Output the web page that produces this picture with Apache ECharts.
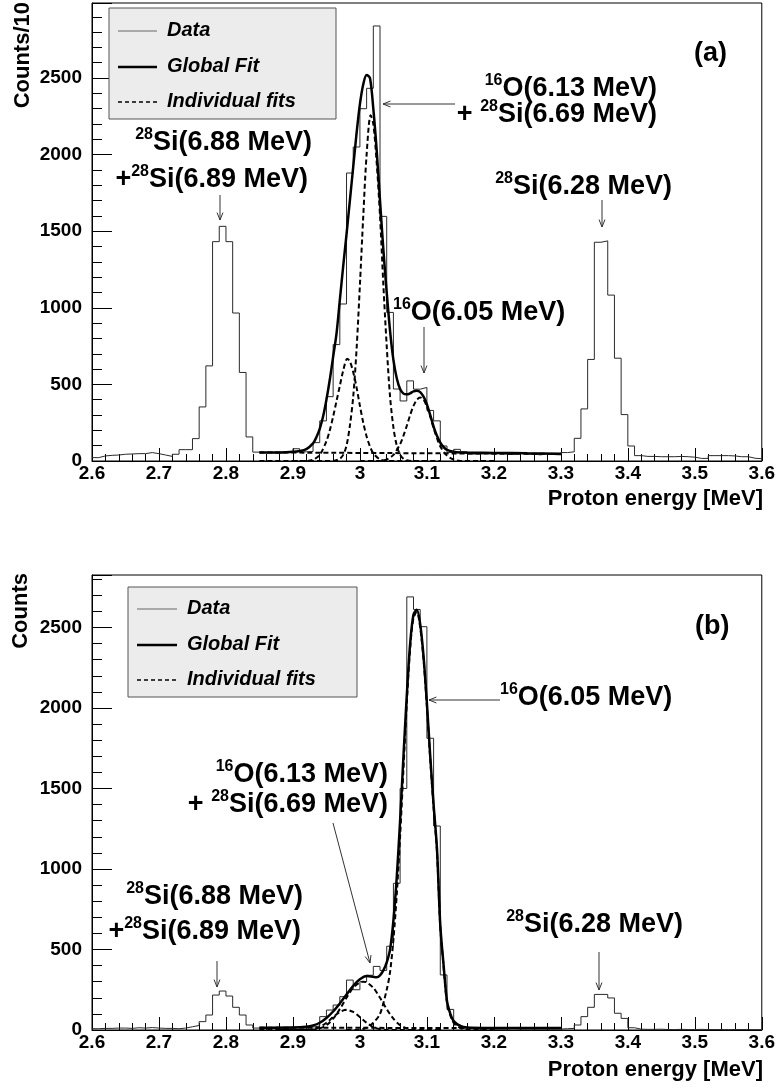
<!DOCTYPE html>
<html><head><meta charset="utf-8">
<script src="https://cdn.jsdelivr.net/npm/echarts@6/dist/echarts.min.js"></script>
<style>html,body{margin:0;padding:0;background:#fff}#c{width:778px;height:1087px}</style>
</head><body><div id="c"></div>
<script>
// ---------------- DATA ----------------
const binStart = 2.6, binWidth = 0.01;
const xTickLabels = ['2.6','2.7','2.8','2.9','3','3.1','3.2','3.3','3.4','3.5','3.6'];
const yTicksA = [0,500,1000,1500,2000,2500];
const yTicksB = [0,500,1000,1500,2000,2500];

// Panel (a): counts per 10 keV bin, 2.60 ... 3.59
const countsA = [
  22,33,37,39,44,46,48,48,55,48,
  39,30,44,74,74,146,353,621,1432,1532,
  1432,966,578,157,58,55,55,52,55,55,
  80,60,62,120,262,420,760,1025,1880,2050,
  2300,2433,2840,1597,970,470,392,523,469,480,
  330,262,98,55,76,60,45,45,48,45,
  50,44,42,50,45,44,40,48,42,40,
  55,60,148,340,663,1428,1437,1083,671,303,
  98,35,30,30,28,28,28,30,28,25,
  17,17,35,35,35,33,28,28,18,15
];
// Panel (b)
const countsB = [
  8,10,10,12,12,10,14,12,15,12,
  10,10,8,12,20,28,52,93,217,242,
  211,141,93,31,12,12,10,12,10,12,
  15,12,18,25,83,124,155,207,310,250,
  300,340,395,370,520,911,1500,2690,2612,2505,
  1812,1267,342,128,31,12,8,6,8,6,
  5,6,8,5,6,5,6,5,5,6,
  8,10,31,83,141,221,221,199,104,72,
  14,5,4,4,5,3,3,4,3,3,
  4,3,3,3,2,3,3,2,2,2
];

// Fit curves: [energy, counts]
const fitGlobalA = [[2.85,55],[2.88,56],[2.90,60],[2.91,65],[2.92,78],[2.93,115],[2.935,155],[2.94,210],[2.945,290],[2.95,400],[2.955,530],[2.96,680],[2.965,830],[2.97,1050],[2.975,1270],[2.98,1480],[2.985,1700],[2.99,1920],[2.995,2140],[3.0,2330],[3.005,2460],[3.01,2520],[3.015,2500],[3.02,2300],[3.025,2030],[3.03,1700],[3.035,1380],[3.04,1100],[3.045,850],[3.05,660],[3.055,540],[3.06,470],[3.065,440],[3.07,435],[3.075,442],[3.08,455],[3.085,458],[3.09,450],[3.095,420],[3.10,370],[3.105,300],[3.11,225],[3.115,165],[3.12,120],[3.125,90],[3.13,72],[3.14,60],[3.15,56],[3.2,53],[3.25,50],[3.3,48]];
const fitPeak1A = [[2.85,0],[2.92,0],[2.93,8],[2.94,40],[2.95,130],[2.955,200],[2.96,290],[2.965,390],[2.97,490],[2.975,590],[2.981,667],[2.985,650],[2.99,580],[2.995,480],[3.0,360],[3.005,250],[3.01,160],[3.015,95],[3.02,50],[3.03,10],[3.04,0],[3.1,0]];
const fitPeak2A = [[2.90,0],[2.96,0],[2.97,15],[2.975,40],[2.98,100],[2.985,230],[2.99,420],[2.995,730],[3.0,1150],[3.005,1600],[3.01,2000],[3.016,2258],[3.02,2200],[3.025,1950],[3.03,1600],[3.035,1150],[3.04,750],[3.045,420],[3.05,220],[3.055,100],[3.06,40],[3.065,15],[3.07,5],[3.08,0],[3.12,0]];
const fitPeak3A = [[3.0,0],[3.03,0],[3.04,10],[3.05,40],[3.06,110],[3.065,165],[3.07,230],[3.075,300],[3.08,360],[3.085,400],[3.09,415],[3.095,400],[3.10,355],[3.105,290],[3.11,215],[3.115,150],[3.12,95],[3.13,35],[3.14,10],[3.15,0],[3.2,0]];
const fitBackA = [[2.85,56],[3.30,46]];

const fitGlobalB = [[2.85,14],[2.90,15],[2.92,20],[2.93,28],[2.94,45],[2.95,75],[2.96,115],[2.97,165],[2.98,220],[2.99,275],[3.0,315],[3.01,335],[3.02,330],[3.025,328],[3.03,340],[3.035,370],[3.04,420],[3.045,500],[3.05,680],[3.055,950],[3.06,1300],[3.065,1700],[3.07,2080],[3.075,2400],[3.08,2580],[3.085,2610],[3.09,2520],[3.095,2320],[3.10,2030],[3.105,1700],[3.11,1400],[3.115,1130],[3.12,650],[3.125,400],[3.13,180],[3.135,100],[3.14,55],[3.15,25],[3.16,16],[3.2,13],[3.3,12]];
const fitPeak1B = [[2.85,0],[2.92,0],[2.93,5],[2.94,18],[2.95,45],[2.96,80],[2.97,112],[2.98,125],[2.99,112],[3.0,80],[3.01,45],[3.02,18],[3.03,5],[3.04,0],[3.08,0]];
const fitPeak2B = [[2.88,0],[2.93,3],[2.94,10],[2.95,30],[2.96,70],[2.97,130],[2.98,200],[2.99,262],[3.0,296],[3.005,300],[3.01,296],[3.02,262],[3.03,200],[3.04,130],[3.05,70],[3.06,30],[3.07,10],[3.08,0],[3.12,0]];
const fitPeak3B = [[2.98,0],[3.0,2],[3.01,15],[3.02,45],[3.03,100],[3.04,250],[3.045,360],[3.05,560],[3.055,840],[3.06,1200],[3.065,1620],[3.07,2030],[3.075,2370],[3.08,2560],[3.085,2595],[3.09,2500],[3.095,2300],[3.10,2010],[3.105,1680],[3.11,1380],[3.115,1110],[3.12,640],[3.125,390],[3.13,170],[3.135,90],[3.14,45],[3.15,12],[3.16,3],[3.2,0]];
const fitBackB = [[2.85,14],[3.30,12]];

// ---------------- CHART ----------------
const FONT = '"Liberation Sans", Arial, Helvetica, sans-serif';
const chart = echarts.init(document.getElementById('c'), null, {renderer:'canvas', width:778, height:1087});

function histData(counts){
  const d = counts.map((c,i)=>[+(binStart+i*binWidth).toFixed(2), c]);
  d.push([+(binStart+counts.length*binWidth).toFixed(2), counts[counts.length-1]]);
  return d;
}
function xAxisCfg(idx){
  return {gridIndex: idx, type:'value', min:2.6, max:3.6, interval:0.1,
    axisLine:{show:true, onZero:false, lineStyle:{color:'#000', width:1}},
    axisTick:{show:true, inside:true, length:13, lineStyle:{color:'#000', width:1}},
    minorTick:{show:true, splitNumber:5, length:7, lineStyle:{color:'#000', width:1}},
    splitLine:{show:false},
    axisLabel:{margin:3, color:'#000', fontFamily:FONT, fontWeight:'bold', fontSize:19,
      formatter: v => { const r = Math.round(v*10)/10; const s = (r%1===0)? String(r) : r.toFixed(1); return xTickLabels.indexOf(s)>=0 ? s : ''; }}
  };
}
function yAxisCfg(idx, max, ticks){
  return {gridIndex: idx, type:'value', min:0, max:max, interval:500,
    axisLine:{show:true, lineStyle:{color:'#000', width:1}},
    axisTick:{show:true, inside:true, length:20, lineStyle:{color:'#000', width:1}},
    minorTick:{show:true, splitNumber:5, length:10, lineStyle:{color:'#000', width:1}},
    splitLine:{show:false},
    axisLabel:{margin:10, color:'#000', fontFamily:FONT, fontWeight:'bold', fontSize:19, showMaxLabel:false,
      formatter: v => ticks.indexOf(Math.round(v))>=0 ? String(Math.round(v)) : ''}
  };
}
function lineSeries(data, ax, opts){
  return Object.assign({type:'line', xAxisIndex:ax, yAxisIndex:ax, data:data, showSymbol:false, symbol:'none',
    animation:false, clip:true, silent:true}, opts);
}
const dashed = {color:'#000', width:2, type:[5,3]};
const series = [];
[[countsA, fitGlobalA, [fitPeak1A, fitPeak2A, fitPeak3A, fitBackA]],
 [countsB, fitGlobalB, [fitPeak1B, fitPeak2B, fitPeak3B, fitBackB]]].forEach((p, ax) => {
  series.push(lineSeries(histData(p[0]), ax, {step:'end', lineStyle:{color:'#2a2a2a', width:1}, z:2}));
  p[2].forEach(f => series.push(lineSeries(f, ax, {smooth:0.3, lineStyle:dashed, z:3})));
  series.push(lineSeries(p[1], ax, {smooth:0.3, lineStyle:{color:'#000', width:2.5}, z:4}));
});

// ---------- text helpers ----------
const mctx = document.createElement('canvas').getContext('2d');
function tw(t, size, style){ mctx.font = (style||'bold') + ' ' + size + 'px ' + FONT; return mctx.measureText(t).width; }
const MAIN = 27, SUP = 16, MID = 0.3465;
function label(parts, x, base, align){
  let w = 0; parts.forEach(p => w += tw(p[0], p[1]?SUP:MAIN));
  let cx = align==='right' ? x-w : (align==='center' ? x-w/2 : x);
  const els = [];
  parts.forEach(p => {
    const s = p[1]?SUP:MAIN, b = p[1] ? base-12 : base;
    els.push({type:'text', x:cx, y:b - MID*s, silent:true,
      style:{text:p[0], font:'bold '+s+'px '+FONT, fill:'#000', align:'left', verticalAlign:'middle'}});
    cx += tw(p[0], s);
  });
  return els;
}
function arrow(x1,y1,x2,y2){
  const a = Math.atan2(y2-y1, x2-x1), L = 8, A = 0.38;
  return [
    {type:'line', silent:true, shape:{x1:x1,y1:y1,x2:x2,y2:y2}, style:{stroke:'#333', lineWidth:1}},
    {type:'polyline', silent:true, shape:{points:[[x2-L*Math.cos(a-A), y2-L*Math.sin(a-A)],[x2,y2],[x2-L*Math.cos(a+A), y2-L*Math.sin(a+A)]]},
      style:{stroke:'#333', lineWidth:1, fill:null}}
  ];
}
function legend(x, y, w, h, lx1, lx2, tx, rows){
  const els = [{type:'rect', silent:true, shape:{x:x, y:y, width:w, height:h}, style:{fill:'#ececec', stroke:'#555', lineWidth:1}, z:10}];
  const names = ['Data','Global Fit','Individual fits'];
  const styles = [{stroke:'#666', lineWidth:1}, {stroke:'#000', lineWidth:2.5}, {stroke:'#000', lineWidth:1.5, lineDash:[4,3]}];
  rows.forEach((ry, i) => {
    els.push({type:'line', silent:true, z:11, shape:{x1:lx1, y1:ry, x2:lx2, y2:ry}, style:styles[i]});
    els.push({type:'text', silent:true, z:11, x:tx, y:ry-0.5, style:{text:names[i], font:'italic bold 20px '+FONT, fill:'#000', align:'left', verticalAlign:'middle'}});
  });
  return els;
}
function plain(text, x, y, size, align, rot){
  return {type:'text', silent:true, x:x, y:y, rotation:rot||0,
    style:{text:text, font:'bold '+size+'px '+FONT, fill:'#000', align:align, verticalAlign:'middle'}};
}

let g = [];
// axis titles
g.push(plain('Counts/10', 23, 2, 22, 'right', Math.PI/2));
g.push(plain('Counts', 21, 573, 22, 'right', Math.PI/2));
g.push(plain('Proton energy [MeV]', 763, 499, 22, 'right'));
g.push(plain('Proton energy [MeV]', 763, 1070, 22, 'right'));
// legends
g = g.concat(legend(109, 8, 227, 111, 118, 157, 167, [31, 67, 102]));
g = g.concat(legend(128, 587, 229, 110, 137, 177, 187, [609, 645, 680]));
// panel (a) annotations
g.push(plain('(a)', 694, 63 - MID*27, 27, 'left'));
g = g.concat(label([['16',1],['O(6.13 MeV)',0]], 657, 98, 'right'));
g = g.concat(label([['+ ',0],['28',1],['Si(6.69 MeV)',0]], 657, 124, 'right'));
g = g.concat(arrow(455, 104, 383, 104));
g = g.concat(label([['28',1],['Si(6.88 MeV)',0]], 312, 152, 'right'));
g = g.concat(label([['+',0],['28',1],['Si(6.89 MeV)',0]], 308, 189, 'right'));
g = g.concat(arrow(220, 195, 220, 220));
g = g.concat(label([['16',1],['O(6.05 MeV)',0]], 393, 322, 'left'));
g = g.concat(arrow(424, 327, 424, 373));
g = g.concat(label([['28',1],['Si(6.28 MeV)',0]], 672, 196, 'right'));
g = g.concat(arrow(602, 200, 602, 227));
// panel (b) annotations
g.push(plain('(b)', 695, 636 - MID*27, 27, 'left'));
g = g.concat(label([['16',1],['O(6.05 MeV)',0]], 500, 707, 'left'));
g = g.concat(arrow(500, 700, 429, 700));
g = g.concat(label([['16',1],['O(6.13 MeV)',0]], 388, 784, 'right'));
g = g.concat(label([['+ ',0],['28',1],['Si(6.69 MeV)',0]], 388, 814, 'right'));
g = g.concat(arrow(333, 823, 370, 963));
g = g.concat(label([['28',1],['Si(6.88 MeV)',0]], 303, 906, 'right'));
g = g.concat(label([['+',0],['28',1],['Si(6.89 MeV)',0]], 301, 941, 'right'));
g = g.concat(arrow(217, 961, 217, 987));
g = g.concat(label([['28',1],['Si(6.28 MeV)',0]], 683, 934, 'right'));
g = g.concat(arrow(599, 952, 599, 990));

chart.setOption({
  animation:false,
  backgroundColor:'#fff',
  grid:[
    {left:92, right:15, top:3, height:458, show:true, borderColor:'#000', borderWidth:1, backgroundColor:'transparent'},
    {left:92, right:15, top:575, height:455, show:true, borderColor:'#000', borderWidth:1, backgroundColor:'transparent'}
  ],
  xAxis:[xAxisCfg(0), xAxisCfg(1)],
  yAxis:[yAxisCfg(0, 2990, yTicksA), yAxisCfg(1, 2826, yTicksB)],
  series: series,
  graphic: g
});
</script></body></html>
